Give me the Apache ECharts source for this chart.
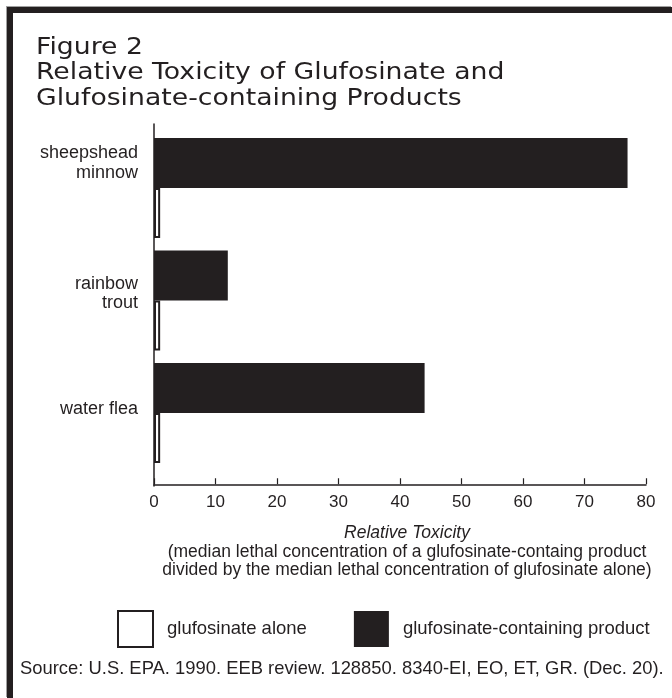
<!DOCTYPE html>
<html>
<head>
<meta charset="utf-8">
<script src="https://cdn.jsdelivr.net/npm/echarts@6/dist/echarts.min.js"></script>
<style>
html, body { margin: 0; padding: 0; background: #fff; }
#frame {
  position: absolute; left: 7px; top: 7px; width: 665px; height: 691px;
  border-top: 6px solid #231f20; border-left: 6px solid #231f20;
  box-sizing: border-box; box-shadow: -1px -1px 0 #a0a0a0;
}
#chart { position: absolute; left: 0; top: 0; width: 672px; height: 698px; }
</style>
</head>
<body>
<div id="frame"></div>
<div id="chart"></div>
<script>
// data
const categories = ['sheepshead\nminnow', 'rainbow\ntrout', 'water flea'];
const aloneValues = [1, 1, 1];
const productValues = [77, 12, 44];
const seriesNames = ['glufosinate alone', 'glufosinate-containing product'];
const xMin = 0, xMax = 80, xStep = 10;

// category names are not centred on the bar pairs; nudge from the dark bar middle
const labelShift = [0, 18, 21];

const ink = '#231f20';
const sans = '"Liberation Sans", Arial, sans-serif';

let chart = echarts.init(document.getElementById('chart'), null, { renderer: 'canvas' });

let option = {
  backgroundColor: 'transparent',
  animation: false,
  graphic: [
    {
      // wide heading face, imitated by stretching
      type: 'text',
      x: 36,
      y: 35,
      scaleX: 1.16,
      style: {
        text: 'Figure 2\nRelative Toxicity of Glufosinate and\nGlufosinate-containing Products',
        fontFamily: '"DejaVu Sans", sans-serif',
        fontSize: 23,
        lineHeight: 25.5,
        fill: ink,
        align: 'left',
        verticalAlign: 'top'
      }
    }
  ],
  title: {
    text: 'Source: U.S. EPA. 1990. EEB review. 128850. 8340-EI, EO, ET, GR. (Dec. 20).',
    left: 20,
    top: 660,
    padding: 0,
    textStyle: { fontFamily: sans, fontWeight: 'normal', fontSize: 18.4, color: ink }
  },
  legend: {
    data: seriesNames,
    left: 117,
    top: 610,
    padding: 0,
    icon: 'rect',
    itemWidth: 35,
    itemHeight: 36,
    itemGap: 47,
    selectedMode: false,
    textStyle: { fontFamily: sans, fontSize: 18.5, color: ink, padding: [0, 0, 0, 9] }
  },
  grid: [
    // bars
    { left: 154, right: 26, top: 131.75, height: 337.5, outerBoundsMode: 'none' },
    // long vertical axis line only
    { left: 154, right: 26, top: 124, bottom: 212, outerBoundsMode: 'none' }
  ],
  xAxis: [
    {
      type: 'value',
      gridIndex: 0,
      min: xMin,
      max: xMax,
      interval: xStep,
      offset: 15,
      splitLine: { show: false },
      axisLine: { show: true, lineStyle: { color: ink, width: 1.5 } },
      axisTick: { show: true, inside: true, length: 6, lineStyle: { color: ink, width: 1.2 } },
      axisLabel: { margin: 10, fontFamily: sans, fontSize: 17, color: ink },
      name: '{it|Relative Toxicity}\n{n|(median lethal concentration of a glufosinate-containg product}\n{n|divided by the median lethal concentration of glufosinate alone)}',
      nameLocation: 'middle',
      nameGap: 40,
      nameTextStyle: {
        padding: [0, 0, 0, 14],
        rich: {
          it: { fontFamily: sans, fontStyle: 'italic', fontSize: 17.5, lineHeight: 18.5, color: ink },
          n: { fontFamily: sans, fontSize: 17.5, lineHeight: 18.5, color: ink }
        }
      }
    },
    { type: 'value', gridIndex: 1, show: false }
  ],
  yAxis: [
    {
      type: 'category',
      gridIndex: 0,
      inverse: true,
      data: categories,
      axisLine: { show: false },
      axisTick: { show: false },
      axisLabel: { show: false }
    },
    {
      type: 'value',
      gridIndex: 1,
      axisLine: { show: true, onZero: false, lineStyle: { color: ink, width: 1.5 } },
      axisTick: { show: false },
      axisLabel: { show: false },
      splitLine: { show: false }
    }
  ],
  series: [
    {
      name: seriesNames[1],
      type: 'bar',
      xAxisIndex: 0,
      yAxisIndex: 0,
      barWidth: 50,
      barGap: '0%',
      data: productValues.map((v, i) => ({ value: v, label: { offset: [0, labelShift[i]] } })),
      itemStyle: { color: ink },
      // category names drawn beside the dark bars
      label: {
        show: true,
        position: 'left',
        distance: 16,
        formatter: p => p.name,
        fontFamily: sans,
        fontSize: 18,
        lineHeight: 19.5,
        color: ink,
        align: 'right'
      }
    },
    {
      name: seriesNames[0],
      type: 'bar',
      xAxisIndex: 0,
      yAxisIndex: 0,
      barWidth: 50,
      barGap: '0%',
      data: aloneValues,
      itemStyle: { color: '#fff', borderColor: ink, borderWidth: 2 }
    }
  ]
};

chart.setOption(option);
</script>
</body>
</html>
